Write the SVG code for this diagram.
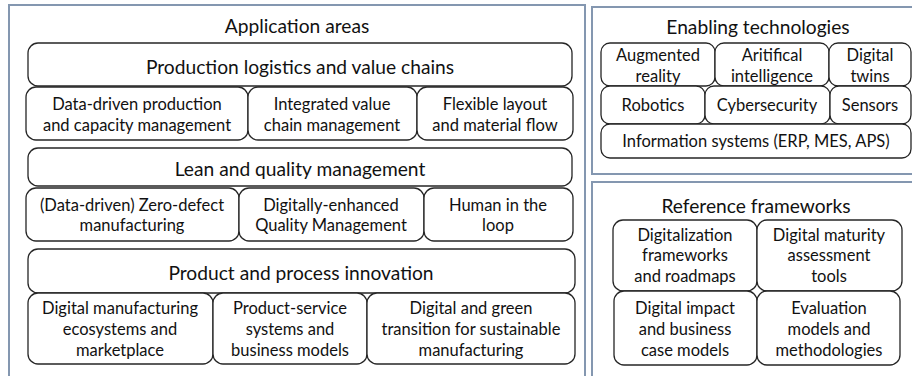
<svg xmlns="http://www.w3.org/2000/svg" width="912" height="376" viewBox="0 0 912 376">
<style>
.panel{fill:none;stroke:#8497b0;stroke-width:2}
.box{fill:#fff;stroke:#262626;stroke-width:1.3}
text{font-family:Lato,"Liberation Sans",sans-serif;fill:#111;text-anchor:middle;dominant-baseline:central}
.t{font-size:19.2px}
.s{font-size:16.5px}
</style>
<rect width="912" height="376" fill="#fff"/>
<g id="panel-application">
<rect class="panel" x="9" y="5" width="576" height="390"/>
<text class="t" x="297" y="25">Application areas</text>
</g>
<g id="panel-enabling">
<rect class="panel" x="592" y="7" width="330" height="167"/>
<text class="t" x="758" y="26">Enabling technologies</text>
</g>
<g id="panel-reference">
<rect class="panel" x="592" y="182" width="330" height="210"/>
<text class="t" x="756" y="205">Reference frameworks</text>
</g>
<g id="connectors"></g>
<g id="production-logistics">
<rect class="box" x="28" y="43" width="544" height="43" rx="10"/>
<text class="t" x="300" y="66">Production logistics and value chains</text>
</g>
<g id="data-driven-production">
<rect class="box" x="26" y="87" width="222" height="53" rx="10"/>
<text class="s" x="137" y="104">Data-driven production</text>
<text class="s" x="137" y="125">and capacity management</text>
</g>
<g id="integrated-value-chain">
<rect class="box" x="248" y="87" width="169" height="53" rx="10"/>
<text class="s" x="332" y="104">Integrated value</text>
<text class="s" x="332" y="125">chain management</text>
</g>
<g id="flexible-layout">
<rect class="box" x="417" y="87" width="156" height="53" rx="10"/>
<text class="s" x="495" y="104">Flexible layout</text>
<text class="s" x="495" y="125">and material flow</text>
</g>
<g id="lean-quality">
<rect class="box" x="28" y="148" width="544" height="38" rx="10"/>
<text class="t" x="300" y="168">Lean and quality management</text>
</g>
<g id="zero-defect">
<rect class="box" x="26" y="188" width="213" height="53" rx="10"/>
<text class="s" x="132" y="205">(Data-driven) Zero-defect</text>
<text class="s" x="132" y="225">manufacturing</text>
</g>
<g id="quality-management">
<rect class="box" x="239" y="188" width="185" height="53" rx="10"/>
<text class="s" x="331" y="205">Digitally-enhanced</text>
<text class="s" x="331" y="225">Quality Management</text>
</g>
<g id="human-in-loop">
<rect class="box" x="424" y="188" width="149" height="53" rx="10"/>
<text class="s" x="498" y="205">Human in the</text>
<text class="s" x="498" y="225">loop</text>
</g>
<g id="product-process">
<rect class="box" x="28" y="249" width="547" height="44" rx="10"/>
<text class="t" x="301" y="272">Product and process innovation</text>
</g>
<g id="ecosystems">
<rect class="box" x="28" y="293" width="185" height="71" rx="10"/>
<text class="s" x="120" y="308">Digital manufacturing</text>
<text class="s" x="120" y="329">ecosystems and</text>
<text class="s" x="120" y="350">marketplace</text>
</g>
<g id="product-service">
<rect class="box" x="213" y="293" width="154" height="71" rx="10"/>
<text class="s" x="290" y="308">Product-service</text>
<text class="s" x="290" y="329">systems and</text>
<text class="s" x="290" y="350">business models</text>
</g>
<g id="green-transition">
<rect class="box" x="367" y="293" width="208" height="71" rx="10"/>
<text class="s" x="471" y="308">Digital and green</text>
<text class="s" x="471" y="329">transition for sustainable</text>
<text class="s" x="471" y="350">manufacturing</text>
</g>
<g id="augmented-reality">
<rect class="box" x="601" y="43" width="114" height="43" rx="9"/>
<text class="s" x="658" y="55">Augmented</text>
<text class="s" x="658" y="76">reality</text>
</g>
<g id="ai">
<rect class="box" x="715" y="43" width="114" height="43" rx="9"/>
<text class="s" x="772" y="55">Aritifical</text>
<text class="s" x="772" y="76">intelligence</text>
</g>
<g id="digital-twins">
<rect class="box" x="829" y="43" width="82" height="43" rx="9"/>
<text class="s" x="870" y="55">Digital</text>
<text class="s" x="870" y="76">twins</text>
</g>
<g id="robotics">
<rect class="box" x="601" y="86" width="104" height="38" rx="9"/>
<text class="s" x="653" y="105">Robotics</text>
</g>
<g id="cybersecurity">
<rect class="box" x="705" y="86" width="125" height="38" rx="9"/>
<text class="s" x="767" y="105">Cybersecurity</text>
</g>
<g id="sensors">
<rect class="box" x="830" y="86" width="81" height="38" rx="9"/>
<text class="s" x="870" y="105">Sensors</text>
</g>
<g id="information-systems">
<rect class="box" x="601" y="124" width="310" height="34" rx="9"/>
<text class="s" x="756" y="141">Information systems (ERP, MES, APS)</text>
</g>
<g id="digitalization-frameworks">
<rect class="box" x="613" y="220" width="144" height="71" rx="10"/>
<text class="s" x="685" y="235">Digitalization</text>
<text class="s" x="685" y="255">frameworks</text>
<text class="s" x="685" y="276">and roadmaps</text>
</g>
<g id="maturity-tools">
<rect class="box" x="757" y="220" width="145" height="71" rx="10"/>
<text class="s" x="829" y="235">Digital maturity</text>
<text class="s" x="829" y="255">assessment</text>
<text class="s" x="829" y="276">tools</text>
</g>
<g id="impact-models">
<rect class="box" x="614" y="291" width="143" height="74" rx="10"/>
<text class="s" x="685" y="308">Digital impact</text>
<text class="s" x="685" y="329">and business</text>
<text class="s" x="685" y="350">case models</text>
</g>
<g id="evaluation-models">
<rect class="box" x="757" y="291" width="143" height="74" rx="10"/>
<text class="s" x="829" y="308">Evaluation</text>
<text class="s" x="829" y="329">models and</text>
<text class="s" x="829" y="350">methodologies</text>
</g>
</svg>
